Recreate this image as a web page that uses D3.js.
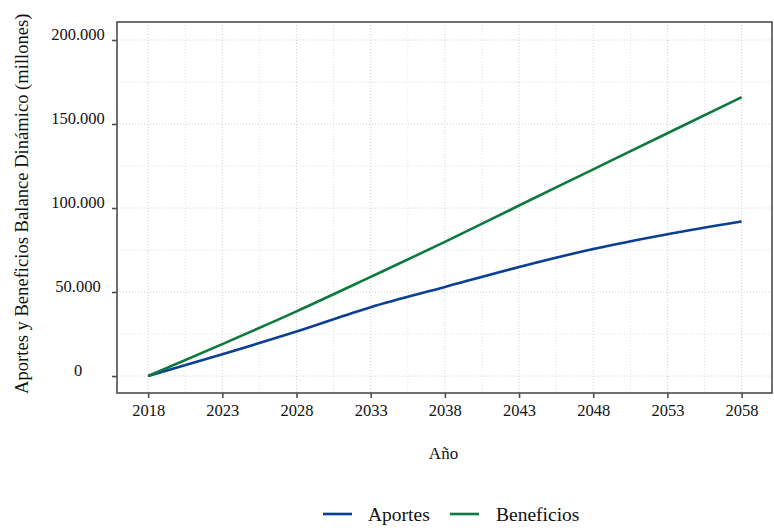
<!DOCTYPE html>
<html><head><meta charset="utf-8">
<script src="https://cdn.jsdelivr.net/npm/d3@7"></script>
<style>
html,body{margin:0;padding:0;background:#fff;}
svg{display:block;font-family:"Liberation Serif","Times New Roman",serif;}
</style></head>
<body>
<svg id="chart" width="774" height="528"></svg>
<script>
const years = [2018, 2023, 2028, 2033, 2038, 2043, 2048, 2053, 2058];
const aportes = [0, 13000, 26500, 41000, 53000, 64900, 75600, 84400, 92000];
const beneficios = [0, 19000, 38500, 59000, 79800, 101500, 123000, 144500, 165900];
const seriesNames = ["Aportes", "Beneficios"];
const seriesColors = ["#0a3f94", "#0b7a3c"];
const xTicks = [2018, 2023, 2028, 2033, 2038, 2043, 2048, 2053, 2058];
const yTicks = [0, 50000, 100000, 150000, 200000];
const yTickLabels = ["0", "50.000", "100.000", "150.000", "200.000"];
const xTitle = "Año";
const yTitle = "Aportes y Beneficios Balance Dinámico (millones)";

const svg = d3.select("#chart");
const L = 117, R = 772, T = 22, B = 393;
const x = d3.scaleLinear().domain([2015.9, 2060.05]).range([L, R]);
const y = d3.scaleLinear().domain([-10100, 210700]).range([B, T]);

// grid
const g = svg.append("g");
const xMinor = xTicks.slice(0, -1).map(v => v + 2.5);
const yMinor = yTicks.slice(0, -1).map(v => v + 25000);
g.selectAll(".vmin").data(xMinor).enter().append("line")
  .attr("x1", d => x(d)).attr("x2", d => x(d)).attr("y1", T).attr("y2", B)
  .attr("stroke", "#e3e3e3").attr("stroke-width", 1).attr("stroke-dasharray", "1,2");
g.selectAll(".hmin").data(yMinor).enter().append("line")
  .attr("y1", d => y(d)).attr("y2", d => y(d)).attr("x1", L).attr("x2", R)
  .attr("stroke", "#e3e3e3").attr("stroke-width", 1).attr("stroke-dasharray", "1,2");
g.selectAll(".vmaj").data(xTicks).enter().append("line")
  .attr("x1", d => x(d)).attr("x2", d => x(d)).attr("y1", T).attr("y2", B)
  .attr("stroke", "#cfcfcf").attr("stroke-width", 1).attr("stroke-dasharray", "1,2");
g.selectAll(".hmaj").data(yTicks).enter().append("line")
  .attr("y1", d => y(d)).attr("y2", d => y(d)).attr("x1", L).attr("x2", R)
  .attr("stroke", "#cfcfcf").attr("stroke-width", 1).attr("stroke-dasharray", "1,2");

// lines
const line = d3.line().x((d, i) => x(years[i])).y(d => y(d)).curve(d3.curveMonotoneX);
[aportes, beneficios].forEach((s, k) => {
  svg.append("path").datum(s).attr("d", line).attr("fill", "none")
    .attr("stroke", seriesColors[k]).attr("stroke-width", 2.6);
});

// panel border
svg.append("rect").attr("x", L).attr("y", T).attr("width", R - L).attr("height", B - T)
  .attr("fill", "none").attr("stroke", "#4d4d4d").attr("stroke-width", 1.6);

// axes
const xAxis = d3.axisBottom(x).tickValues(xTicks).tickFormat(d3.format("d")).tickSize(5).tickPadding(6);
const xg = svg.append("g").attr("transform", `translate(0,${B})`).call(xAxis);
xg.select(".domain").remove();
xg.selectAll(".tick line").attr("stroke", "#4d4d4d").attr("stroke-width", 1.6);
xg.selectAll(".tick text").attr("font-size", 16.5).attr("fill", "#111")
  .attr("font-family", "Liberation Serif");

const yAxis = d3.axisLeft(y).tickValues(yTicks).tickFormat((d, i) => yTickLabels[i]).tickSize(5).tickPadding(0);
const yg = svg.append("g").attr("transform", `translate(${L},0)`).call(yAxis);
yg.select(".domain").remove();
yg.selectAll(".tick line").attr("stroke", "#4d4d4d").attr("stroke-width", 1.6);
yg.selectAll(".tick text").attr("font-size", 16.5).attr("fill", "#111")
  .attr("font-family", "Liberation Serif")
  .attr("text-anchor", "middle").attr("x", 78 - L).attr("dy", "-0.05em");

// titles
svg.append("text").attr("x", (L + R) / 2 - 1).attr("y", 459).attr("text-anchor", "middle")
  .attr("font-size", 17).attr("fill", "#111").text(xTitle);
svg.append("text").attr("transform", "translate(28,394) rotate(-90)").attr("text-anchor", "start")
  .attr("font-size", 18.6).attr("fill", "#111").text(yTitle);

// legend
const legX = [323, 450], legTX = [368, 496];
seriesNames.forEach((n, k) => {
  svg.append("line").attr("x1", legX[k]).attr("x2", legX[k] + 29).attr("y1", 514).attr("y2", 514)
    .attr("stroke", seriesColors[k]).attr("stroke-width", 2.6);
  svg.append("text").attr("x", legTX[k]).attr("y", 521).attr("font-size", 19.5)
    .attr("fill", "#111").text(n);
});
</script>
</body></html>
